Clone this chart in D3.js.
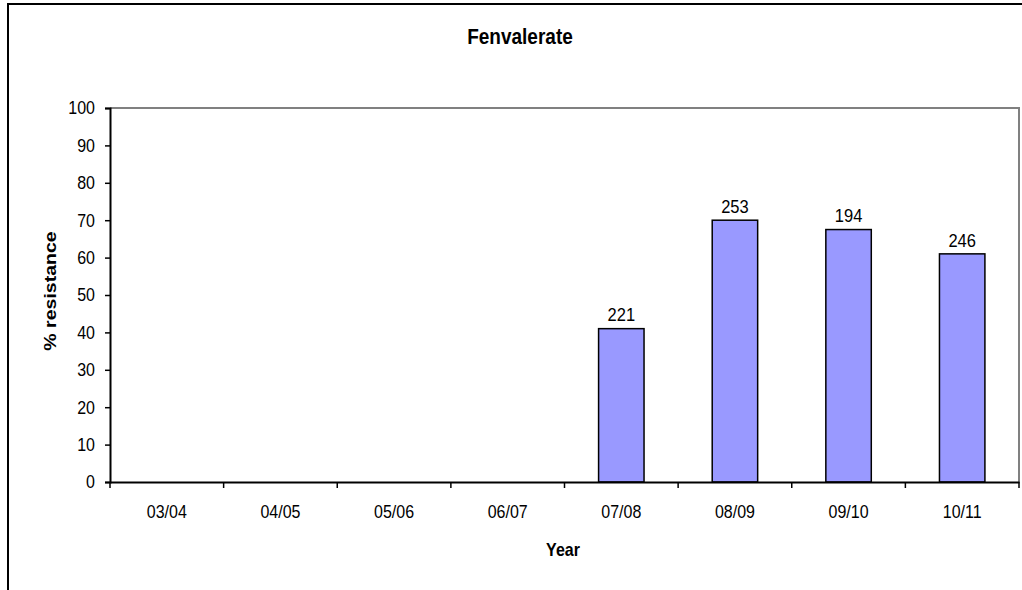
<!DOCTYPE html>
<html>
<head>
<meta charset="utf-8">
<script src="https://cdn.jsdelivr.net/npm/d3@7"></script>
<style>
  html, body { margin: 0; padding: 0; background: #fff; }
  svg { display: block; font-family: Arial, "Liberation Sans", sans-serif; }
  svg text { transform-box: fill-box; transform-origin: center; }
  .stretch { transform: scaleY(1.15); }
</style>
</head>
<body>
<svg id="chart" width="1022" height="590"></svg>
<script>
// Resistance to fenvalerate by season
const years = ["03/04", "04/05", "05/06", "06/07", "07/08", "08/09", "09/10", "10/11"];
const resistance = [null, null, null, null, 41, 70, 67.5, 61];
const sampleSizes = [null, null, null, null, 221, 253, 194, 246];
const yTicks = [0, 10, 20, 30, 40, 50, 60, 70, 80, 90, 100];

const svg = d3.select("#chart");
const margin = { left: 110, right: 1019, top: 108, bottom: 482 };

const x = d3.scaleBand().domain(years).range([margin.left, margin.right]).paddingInner(0).paddingOuter(0);
const y = d3.scaleLinear().domain([0, 100]).range([margin.bottom, margin.top]);

// Outer chart frame
svg.append("rect")
  .attr("x", 8).attr("y", 4)
  .attr("width", 1040).attr("height", 620)
  .attr("fill", "none").attr("stroke", "#000").attr("stroke-width", 2);

// Plot area border (top and right)
svg.append("path")
  .attr("d", `M${margin.left},${margin.top}H${margin.right}V${margin.bottom}`)
  .attr("fill", "none").attr("stroke", "#808080").attr("stroke-width", 2);

// Bars
const data = years.map((yr, i) => ({ yr, v: resistance[i], n: sampleSizes[i] })).filter(d => d.v != null);
const barW = x.bandwidth() * 0.4;
svg.append("g").selectAll("rect").data(data).join("rect")
  .attr("x", d => x(d.yr) + (x.bandwidth() - barW) / 2)
  .attr("y", d => y(d.v))
  .attr("width", barW)
  .attr("height", d => y(0) - y(d.v))
  .attr("fill", "#9999ff")
  .attr("stroke", "#000").attr("stroke-width", 1.5);

// Sample-size labels above bars
svg.append("g").selectAll("text").data(data).join("text")
  .attr("class", "stretch")
  .attr("x", d => x(d.yr) + x.bandwidth() / 2)
  .attr("y", d => y(d.v) - 8)
  .attr("text-anchor", "middle")
  .attr("font-size", 16.5)
  .text(d => d.n);

// Y axis
const yAxis = d3.axisLeft(y).tickValues(yTicks).tickSize(5).tickPadding(10).tickFormat(d3.format("d"));
const gy = svg.append("g").attr("transform", `translate(${margin.left},0)`).call(yAxis);
gy.select(".domain").attr("stroke-width", 2);
gy.selectAll(".tick line").attr("stroke-width", 1.5);
gy.selectAll("text").attr("class", "stretch").attr("font-size", 16).attr("fill", "#000").attr("font-family", "Arial, 'Liberation Sans', sans-serif");

// X axis with ticks between categories
const xAxis = d3.axisBottom(x).tickSize(0).tickPadding(24);
const gx = svg.append("g").attr("transform", `translate(0,${margin.bottom})`).call(xAxis);
gx.select(".domain").attr("stroke-width", 2);
gx.selectAll("text").attr("class", "stretch").attr("font-size", 16).attr("fill", "#000").attr("font-family", "Arial, 'Liberation Sans', sans-serif");
const bounds = years.map(d => x(d)).concat([x(years[years.length - 1]) + x.bandwidth()]);
gx.selectAll("line.sep").data(bounds).join("line")
  .attr("class", "sep")
  .attr("x1", d => d).attr("x2", d => d)
  .attr("y1", 0).attr("y2", 6)
  .attr("stroke", "#000").attr("stroke-width", 1.5);

// Titles
svg.append("text")
  .attr("class", "stretch")
  .attr("x", 520).attr("y", 43)
  .attr("text-anchor", "middle")
  .attr("font-size", 19).attr("font-weight", "bold")
  .text("Fenvalerate");

svg.append("text")
  .attr("class", "stretch")
  .attr("x", 563).attr("y", 555)
  .attr("text-anchor", "middle")
  .attr("font-size", 16).attr("font-weight", "bold")
  .text("Year");

svg.append("text")
  .attr("transform", "translate(50,297) rotate(-90) scale(1.15,1)")
  .attr("text-anchor", "middle")
  .attr("font-size", 17).attr("font-weight", "bold")
  .text("% resistance");
</script>
</body>
</html>
